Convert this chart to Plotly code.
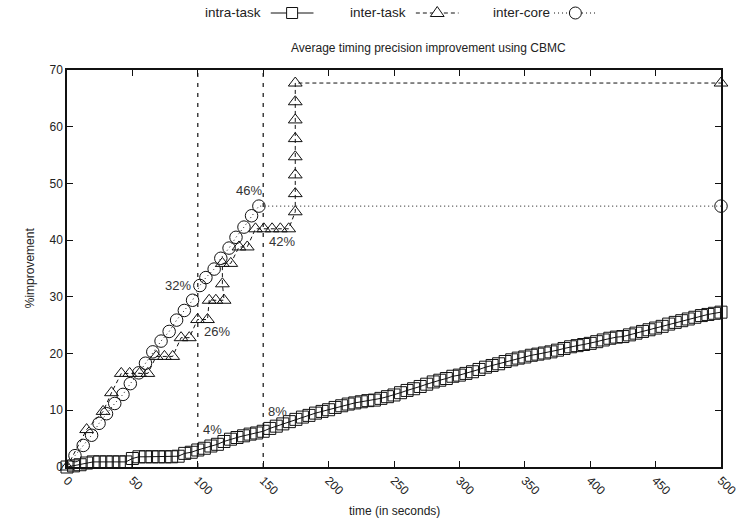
import plotly.graph_objects as go

# intra-task: time (s) vs % improvement
intra_x = [0, 5, 10, 15, 20, 25, 30, 35, 40, 45,
           50, 55, 60, 65, 70, 75, 80, 85, 90, 95,
           100, 105, 110, 115, 120, 125, 130, 135, 140, 145,
           150, 155, 160, 165, 170, 175, 180, 185, 190, 195,
           200, 205, 210, 215, 220, 225, 230, 235, 240, 245,
           250, 255, 260, 265, 270, 275, 280, 285, 290, 295,
           300, 305, 310, 315, 320, 325, 330, 335, 340, 345,
           350, 355, 360, 365, 370, 375, 380, 385, 390, 395,
           400, 405, 410, 415, 420, 425, 430, 435, 440, 445,
           450, 455, 460, 465, 470, 475, 480, 485, 490, 495,
           500]
intra_y = [0.0, 0.2, 0.4, 0.7, 0.9, 0.9, 0.9, 0.9, 0.9, 0.9,
           1.5, 1.8, 1.8, 1.8, 1.8, 1.8, 1.8, 1.9, 2.4, 2.6,
           3.0, 3.3, 3.7, 4.0, 4.5, 4.9, 5.2, 5.5, 5.8, 6.0,
           6.3, 6.8, 7.2, 7.6, 8.0, 8.4, 8.8, 9.1, 9.5, 9.8,
           10.1, 10.5, 10.8, 11.1, 11.3, 11.5, 11.7, 11.8, 12.1, 12.4,
           12.7, 13.1, 13.5, 13.8, 14.2, 14.6, 15.0, 15.3, 15.6, 16.0,
           16.2, 16.5, 16.8, 17.2, 17.6, 17.9, 18.2, 18.6, 18.9, 19.2,
           19.4, 19.7, 19.9, 20.1, 20.3, 20.6, 20.9, 21.2, 21.4, 21.6,
           21.8, 22.1, 22.4, 22.7, 22.9, 23.0, 23.3, 23.6, 23.9, 24.2,
           24.5, 24.8, 25.2, 25.5, 25.8, 26.1, 26.4, 26.7, 26.9, 27.1,
           27.3]

# inter-task
task_x = [0, 15.0, 27.6, 34.0, 41.5, 47.9, 55.5, 61.8, 68.2, 74.5,
          80.8, 87.2, 93.5, 99.8, 107.4, 108.7, 113.8, 120.1, 118.8, 118.8,
          125.2, 131.5, 137.8, 144.1, 150.5, 156.8, 163.1, 169.5, 174.5, 174.5,
          174.5, 174.5, 174.5, 174.5, 174.5, 174.5, 500]
task_y = [0, 6.6, 9.8, 13.1, 16.5, 16.5, 16.5, 16.5, 19.5, 19.5,
          19.5, 22.8, 22.8, 26.0, 26.0, 29.4, 29.4, 29.4, 32.3, 35.9,
          35.9, 38.8, 38.8, 42.0, 42.0, 42.0, 42.0, 42.0, 45.0, 48.2,
          51.5, 54.7, 57.9, 61.2, 64.4, 67.7, 67.7]

# inter-core
core_x = [6.1, 12.4, 18.8, 24.5, 30.2, 36.5, 42.8, 48.4, 54.9, 60.0,
          65.6, 71.9, 78.1, 83.8, 89.7, 96.0, 101.6, 106.2, 112.5, 117.6,
          123.9, 129.2, 135.3, 141.1, 146.7, 500]
core_y = [2.0, 3.8, 5.6, 7.7, 9.4, 11.2, 12.8, 14.7, 16.6, 18.3,
          20.3, 22.2, 23.9, 25.9, 27.6, 29.4, 32.0, 33.4, 34.9, 36.8,
          38.6, 40.5, 42.3, 44.3, 46.0, 46.0]

series_names = ["intra-task", "inter-task", "inter-core"]
milestones = [100, 150]
x_ticks = [0, 50, 100, 150, 200, 250, 300, 350, 400, 450, 500]
y_ticks = [0, 10, 20, 30, 40, 50, 60, 70]
X_RANGE = [0, 500]
Y_RANGE = [0, 70]

# percentage callouts: (text, x, y)
callouts = [("46%", 139.3, 48.8), ("42%", 164.1, 39.7), ("32%", 85.1, 32.0),
            ("26%", 114.4, 23.9), ("4%", 111.2, 6.6), ("8%", 161.1, 9.7)]

FONT = "Liberation Sans, Arial, Helvetica, sans-serif"
INK = "#111111"
TXT = "#222222"

W, H = 751, 526
ML, MR, MT, MB = 67, 26, 70, 59
PW, PH = W - ML - MR, H - MT - MB


def px(xp):
    """pixel column -> paper fraction"""
    return (xp - ML) / PW


def py(yp):
    """pixel row -> paper fraction"""
    return (H - MB - yp) / PH


styles = [
    dict(dash="solid", symbol="square-open", size=12),
    dict(dash="4px,3px", symbol="triangle-up-open", size=12),
    dict(dash="1px,3px", symbol="circle-open", size=12.5),
]
series = [(intra_x, intra_y), (task_x, task_y), (core_x, core_y)]

fig = go.Figure()

for name, st, (xs, ys) in zip(series_names, styles, series):
    fig.add_trace(go.Scatter(
        x=xs, y=ys, mode="lines+markers", name=name, showlegend=False,
        line=dict(color=INK, width=1, dash=st["dash"]),
        marker=dict(symbol=st["symbol"], size=st["size"], color=INK,
                    line=dict(color=INK, width=1)),
        cliponaxis=False,
    ))

for m in milestones:
    fig.add_shape(type="line", x0=m, x1=m, y0=Y_RANGE[0], y1=Y_RANGE[1],
                  xref="x", yref="y",
                  line=dict(color=INK, width=1.2, dash="4px,6px"))

annotations = []
for text, ax, ay in callouts:
    annotations.append(dict(x=ax, y=ay, xref="x", yref="y", text=text, showarrow=False,
                            font=dict(size=13, color="#333", family=FONT)))

# key above the frame: label, then a short sample line with its glyph
key_text_right = [264, 410, 555]
key_line = [(272, 315), (418, 461), (557, 600)]
KEY_Y = 13
glyphs = [
    dict(type="rect", x0=-5.5, x1=5.5, y0=-5.5, y1=5.5),
    dict(type="path", path="M-6.9,-3.5 L6.9,-3.5 L0,6.5 Z"),
    dict(type="circle", x0=-6, x1=6, y0=-6, y1=6),
]
for name, st, xr, (l0, l1), g in zip(series_names, styles, key_text_right, key_line, glyphs):
    annotations.append(dict(x=px(xr), y=py(KEY_Y), xref="paper", yref="paper", text=name,
                            showarrow=False, xanchor="right", yanchor="middle",
                            font=dict(size=13.5, color=TXT, family=FONT)))
    fig.add_shape(type="line", xref="paper", yref="paper",
                  x0=px(l0), x1=px(l1), y0=py(KEY_Y), y1=py(KEY_Y),
                  line=dict(color=INK, width=1, dash=st["dash"]))
    fig.add_shape(xref="paper", yref="paper", xsizemode="pixel", ysizemode="pixel",
                  xanchor=px((l0 + l1) / 2), yanchor=py(KEY_Y),
                  fillcolor="white", line=dict(color=INK, width=1), **g)

annotations.append(dict(x=px(431), y=py(48), xref="paper", yref="paper",
                        text="Average timing precision improvement using CBMC",
                        showarrow=False, xanchor="center", yanchor="middle",
                        font=dict(size=12, color=TXT, family=FONT)))
annotations.append(dict(x=px(396), y=py(511), xref="paper", yref="paper",
                        text="time (in seconds)", showarrow=False,
                        xanchor="center", yanchor="middle",
                        font=dict(size=12, color=TXT, family=FONT)))
annotations.append(dict(x=px(30), y=py(268), xref="paper", yref="paper",
                        text="%improvement", showarrow=False, textangle=-90,
                        xanchor="center", yanchor="middle",
                        font=dict(size=12, color=TXT, family=FONT)))

axis_common = dict(showline=True, linecolor=INK, linewidth=1.5, mirror="ticks",
                   ticks="inside", ticklen=6, tickwidth=1, tickcolor=INK,
                   showgrid=False, zeroline=False,
                   tickfont=dict(size=12, color=TXT, family=FONT))

fig.update_layout(
    xaxis=dict(range=X_RANGE, tickvals=x_ticks, tickangle=45, **axis_common),
    yaxis=dict(range=Y_RANGE, tickvals=y_ticks, **axis_common),
    width=W, height=H, autosize=False,
    margin=dict(l=ML, r=MR, t=MT, b=MB, pad=0),
    plot_bgcolor="white", paper_bgcolor="white",
    annotations=annotations,
    font=dict(family=FONT, color=TXT),
    showlegend=False,
)

fig.write_html("out.html")
